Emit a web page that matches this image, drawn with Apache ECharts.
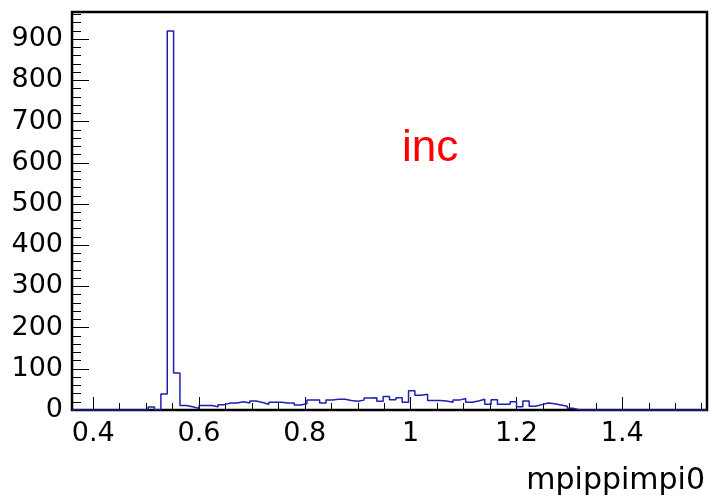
<!DOCTYPE html>
<html>
<head>
<meta charset="utf-8">
<script src="https://cdn.jsdelivr.net/npm/echarts@6/dist/echarts.min.js"></script>
<style>
  html, body { margin: 0; padding: 0; background: #fff; }
  #chart { width: 713px; height: 500px; }
</style>
</head>
<body>
<div id="chart"></div>
<script>
// Histogram of m(pi+ pi- pi0): 100 bins from 0.36 to 1.56
const xMin = 0.36;
const xMax = 1.56;
const binWidth = 0.012;
const counts = [
  0, 0, 0, 0, 0, 0, 0, 0, 0, 0, 0, 0,
  7, 0, 39, 920, 90, 11, 8, 4, 11, 11,
  8, 13, 17, 17, 20, 17, 22, 18, 14, 19,
  19, 17, 17, 12, 15, 24, 24, 17, 24, 26,
  26, 23, 21, 24, 29, 30, 21, 33, 25, 30,
  19, 47, 36, 38, 23, 23, 22, 19, 24, 28,
  19, 22, 26, 14, 25, 14, 14, 20, 8, 22,
  9, 13, 17, 15, 12, 9, 4,
  0, 0, 0, 0, 0, 0, 0, 0, 0, 0, 0, 0, 0, 0, 0, 0, 0, 0, 0, 0, 0
];
const yMax = 966;

const xMajorTicks = [0.4, 0.6, 0.8, 1.0, 1.2, 1.4];
const xMinorTicks = [0.45, 0.5, 0.55, 0.65, 0.7, 0.75, 0.85, 0.9, 0.95, 1.05, 1.1, 1.15,
                     1.25, 1.3, 1.35, 1.45, 1.5, 1.55];
const yMajorTicks = [0, 100, 200, 300, 400, 500, 600, 700, 800, 900];
const yMinorTicks = [];
for (let v = 20; v < yMax; v += 20) {
  if (v % 100 !== 0) yMinorTicks.push(v);
}

const xTitle = 'mpippimpi0';
const tag = 'inc';

// outline of the histogram: both corners of every bin's top edge
const outline = [];
counts.forEach((c, i) => {
  const lo = +(xMin + i * binWidth).toFixed(4);
  const hi = +(xMin + (i + 1) * binWidth).toFixed(4);
  outline.push([lo, c], [hi, c]);
});

const labelFont = { color: '#000', fontSize: 27, fontFamily: '"DejaVu Sans", sans-serif' };
const tickLine = { color: '#000', width: 1 };

const chart = echarts.init(document.getElementById('chart'), null, { renderer: 'canvas' });
chart.setOption({
  animation: false,
  backgroundColor: '#fff',
  grid: {
    left: 72, top: 12, width: 635, height: 398,
    show: true, borderColor: '#000', borderWidth: 2.5, backgroundColor: 'transparent'
  },
  xAxis: [
    {
      type: 'value', min: xMin, max: xMax, position: 'bottom',
      axisLine: { show: false },
      splitLine: { show: false },
      axisTick: { show: true, inside: true, length: 13, customValues: xMajorTicks, lineStyle: tickLine },
      axisLabel: {
        show: true, margin: 10, customValues: xMajorTicks, ...labelFont,
        formatter: v => String(+v.toFixed(2))
      }
    },
    {
      type: 'value', min: xMin, max: xMax, position: 'bottom',
      axisLine: { show: false },
      splitLine: { show: false },
      axisLabel: { show: false },
      axisTick: { show: true, inside: true, length: 7, customValues: xMinorTicks, lineStyle: tickLine }
    }
  ],
  yAxis: [
    {
      type: 'value', min: 0, max: yMax, position: 'left',
      axisLine: { show: false },
      splitLine: { show: false },
      axisTick: { show: true, inside: true, length: 17, customValues: yMajorTicks, lineStyle: tickLine },
      axisLabel: { show: true, margin: 9, customValues: yMajorTicks, ...labelFont }
    },
    {
      type: 'value', min: 0, max: yMax, position: 'left',
      axisLine: { show: false },
      splitLine: { show: false },
      axisLabel: { show: false },
      axisTick: { show: true, inside: true, length: 9, customValues: yMinorTicks, lineStyle: tickLine }
    }
  ],
  series: [
    {
      type: 'line',
      xAxisIndex: 0, yAxisIndex: 0,
      data: outline,
      showSymbol: false,
      symbol: 'none',
      sampling: null,
      lineStyle: { color: '#1f1fb0', width: 1.5 },
      z: 1
    }
  ],
  graphic: [
    {
      type: 'text', right: 8, top: 466,
      style: { text: xTitle, fill: '#000', font: '30px "DejaVu Sans", sans-serif' }
    },
    {
      type: 'text', left: 402, top: 127,
      style: { text: tag, fill: '#ff0000', font: '44px "Liberation Sans", Arial, sans-serif' }
    }
  ]
});
</script>
</body>
</html>
